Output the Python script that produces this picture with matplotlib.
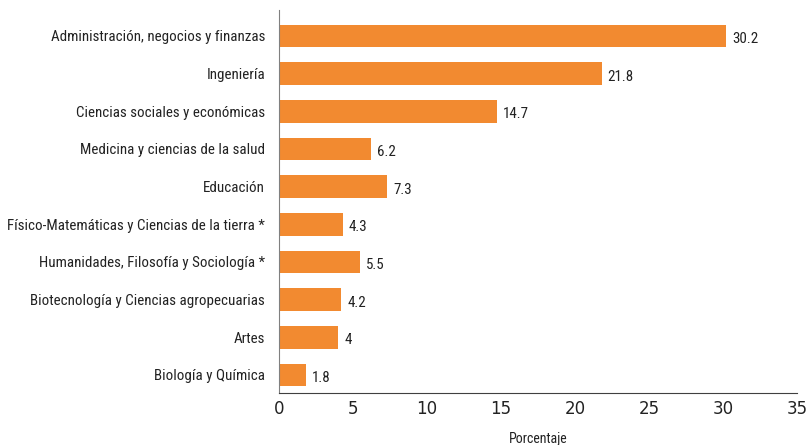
import matplotlib
matplotlib.use("Agg")
import matplotlib.pyplot as plt
from matplotlib import font_manager
import numpy as np

categories = [
    "Administración, negocios y finanzas",
    "Ingeniería",
    "Ciencias sociales y económicas",
    "Medicina y ciencias de la salud",
    "Educación",
    "Físico-Matemáticas y Ciencias de la tierra *",
    "Humanidades, Filosofía y Sociología *",
    "Biotecnología y Ciencias agropecuarias",
    "Artes",
    "Biología y Química",
]
values = [30.2, 21.8, 14.7, 6.2, 7.3, 4.3, 5.5, 4.2, 4, 1.8]
value_labels = ["30.2", "21.8", "14.7", "6.2", "7.3", "4.3", "5.5", "4.2", "4", "1.8"]
xticks = [0, 5, 10, 15, 20, 25, 30, 35]

ORANGE = "#F28A30"
TEXT = "#222222"

# narrow face for the category names, if one is around
names = {f.name for f in font_manager.fontManager.ttflist}
narrow = next((n for n in ["Liberation Sans Narrow", "DejaVu Sans Condensed", "Roboto Condensed"]
               if n in names), None)
plt.rcParams["font.family"] = ["Liberation Sans", "DejaVu Sans"]
label_font = dict(family=narrow, size=10.8) if narrow else dict(family="Liberation Sans", size=9.6)

fig = plt.figure(figsize=(8.11, 4.45), dpi=100)
ax = fig.add_axes([279 / 811, 1 - 393 / 445, (797 - 279) / 811, (393 - 10) / 445])

y = np.arange(len(categories))[::-1]
ax.barh(y, values, height=0.6, color=ORANGE)
for yi, v, lab in zip(y, values, value_labels):
    ax.text(v + 0.4, yi - 0.08, lab, va="center", ha="left", color=TEXT, **label_font)

ax.set_xlim(0, 35)
ax.set_ylim(-0.48, 9.69)
ax.set_yticks(y)
ax.set_yticklabels(categories, color=TEXT, **label_font)
ax.set_xticks(xticks)
ax.set_xticklabels([str(t) for t in xticks], fontsize=12, color=TEXT, family="DejaVu Sans")
ax.tick_params(axis="y", length=0, pad=10)
ax.tick_params(axis="x", length=0, pad=5)
ax.set_xlabel("Porcentaje", color=TEXT, labelpad=10,
              **dict(label_font, size=10))

for side in ("top", "right"):
    ax.spines[side].set_visible(False)
ax.spines["left"].set_color("#808080")
ax.spines["bottom"].set_color("#404040")

fig.savefig("out.png", dpi=100)
